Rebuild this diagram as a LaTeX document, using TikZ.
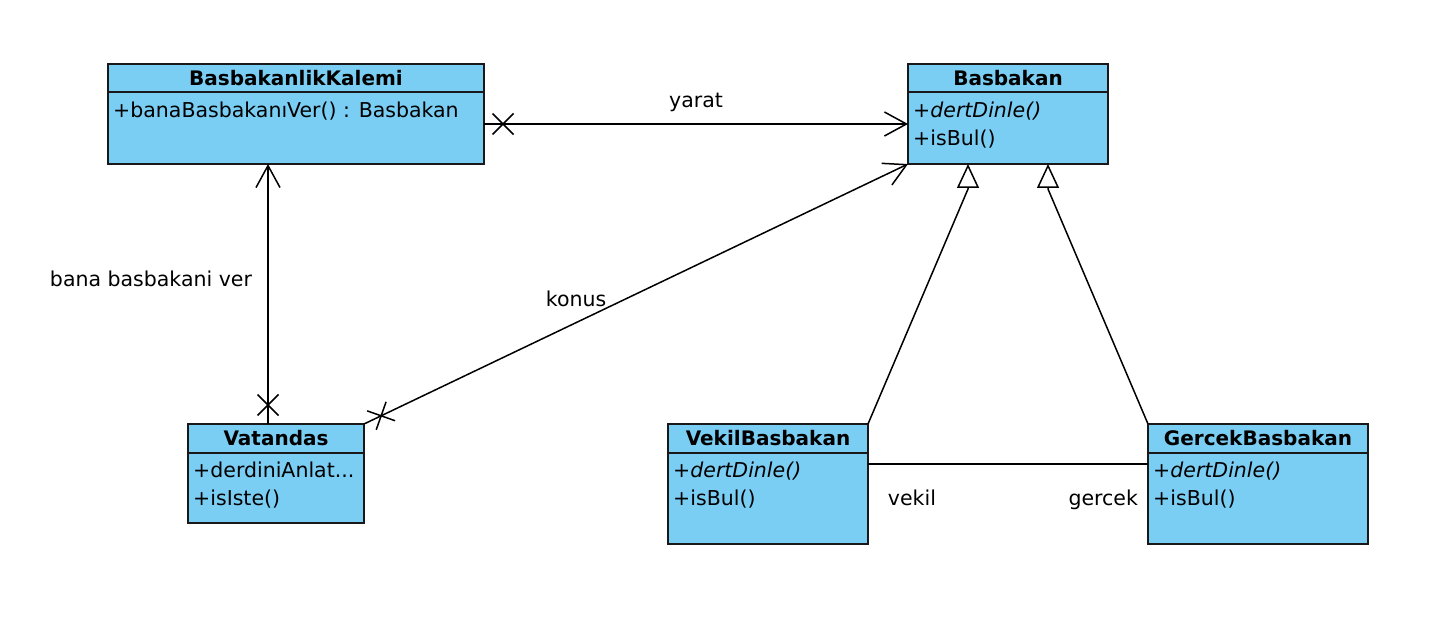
\documentclass[tikz,border=0pt]{standalone}
\usepackage{fontspec}
\setmainfont{DejaVu Sans}
\usepackage{tikz}
\usetikzlibrary{arrows.meta, positioning, decorations.markings}
\definecolor{clsblue}{RGB}{122,206,244}

\begin{document}
\begin{tikzpicture}[
    x=1pt, y=-1pt,
    font=\fontsize{20.5}{24}\selectfont,
    cls/.style={rectangle, draw=black!90, line width=1.6pt, fill=clsblue, inner sep=0pt, outer sep=0pt},
    title/.style={anchor=base, inner sep=0pt, font=\fontsize{20}{24}\selectfont\bfseries},
    member/.style={anchor=base west, inner sep=0pt},
    sep/.style={draw=black!90, line width=1.6pt},
    link/.style={line width=1.5pt},
    assoc/.style={link, -{Straight Barb[length=22pt, width=24pt]}},
    xstart/.style={postaction={decorate}, decoration={markings, mark=at position 19pt with {\draw[-, line width=1.5pt] (-10.5pt,-10.5pt) -- (10.5pt,10.5pt) (-10.5pt,10.5pt) -- (10.5pt,-10.5pt);}}},
    gen/.style={link, -{Triangle[open, length=24pt, width=22pt]}}
]
    \useasboundingbox (0,0) rectangle (1446,636);

    % classes
    \node[cls, minimum width=376pt, minimum height=100pt] (kalemi) at (296,114) {};
    \node[cls, minimum width=200pt, minimum height=100pt] (basbakan) at (1008,114) {};
    \node[cls, minimum width=176pt, minimum height=99pt] (vatandas) at (276,473.5) {};
    \node[cls, minimum width=200pt, minimum height=120pt] (vekil) at (768,484) {};
    \node[cls, minimum width=220pt, minimum height=120pt] (gercek) at (1258,484) {};

    \draw[sep] ([yshift=-28pt]kalemi.north west) -- ([yshift=-28pt]kalemi.north east);
    \draw[sep] ([yshift=-28pt]basbakan.north west) -- ([yshift=-28pt]basbakan.north east);
    \draw[sep] ([yshift=-29pt]vatandas.north west) -- ([yshift=-29pt]vatandas.north east);
    \draw[sep] ([yshift=-29pt]vekil.north west) -- ([yshift=-29pt]vekil.north east);
    \draw[sep] ([yshift=-29pt]gercek.north west) -- ([yshift=-29pt]gercek.north east);

    \node[title] (kalemi-t) at ([yshift=-22pt]kalemi.north) {BasbakanlikKalemi};
    \node[member] (kalemi-m1) at ([xshift=5pt, yshift=-54pt]kalemi.north west) {+banaBasbakanıVer() : Basbakan};

    \node[title] (basbakan-t) at ([yshift=-22pt]basbakan.north) {Basbakan};
    \node[member] (basbakan-m1) at ([xshift=5pt, yshift=-54pt]basbakan.north west) {\itshape +dertDinle()};
    \node[member] (basbakan-m2) at ([xshift=5pt, yshift=-82pt]basbakan.north west) {+isBul()};

    \node[title] (vatandas-t) at ([yshift=-21pt]vatandas.north) {Vatandas};
    \node[member] (vatandas-m1) at ([xshift=5pt, yshift=-53pt]vatandas.north west) {+derdiniAnlat...};
    \node[member] (vatandas-m2) at ([xshift=5pt, yshift=-81pt]vatandas.north west) {+isIste()};

    \node[title] (vekil-t) at ([yshift=-21pt]vekil.north) {VekilBasbakan};
    \node[member] (vekil-m1) at ([xshift=5pt, yshift=-53pt]vekil.north west) {\itshape +dertDinle()};
    \node[member] (vekil-m2) at ([xshift=5pt, yshift=-81pt]vekil.north west) {+isBul()};

    \node[title] (gercek-t) at ([yshift=-21pt]gercek.north) {GercekBasbakan};
    \node[member] (gercek-m1) at ([xshift=5pt, yshift=-53pt]gercek.north west) {\itshape +dertDinle()};
    \node[member] (gercek-m2) at ([xshift=5pt, yshift=-81pt]gercek.north west) {+isBul()};

    % associations
    \draw[assoc, xstart] ([yshift=-10pt]kalemi.east) -- node[above=8pt] {yarat} ([yshift=-10pt]basbakan.west);
    \draw[assoc, xstart] ([xshift=-8pt]vatandas.north) -- node[pos=0.56, left=12pt] {bana basbakani ver} ([xshift=-28pt]kalemi.south);
    \draw[assoc, xstart] (vatandas.north east) -- node[pos=0.39, above=12pt] {konus} (basbakan.south west);
    \draw[link] ([yshift=20pt]vekil.east) -- node[pos=0.157, below=22pt] {vekil} node[pos=0.84, below=22pt] {gercek} ([yshift=20pt]gercek.west);

    % generalizations
    \coordinate (g1) at ([xshift=60pt]basbakan.south west);
    \coordinate (g2) at ([xshift=140pt]basbakan.south west);
    \draw[gen] (vekil.north east) -- ([yshift=-25pt]g1) -- (g1);
    \draw[gen] (gercek.north west) -- ([yshift=-25pt]g2) -- (g2);
\end{tikzpicture}
\end{document}
